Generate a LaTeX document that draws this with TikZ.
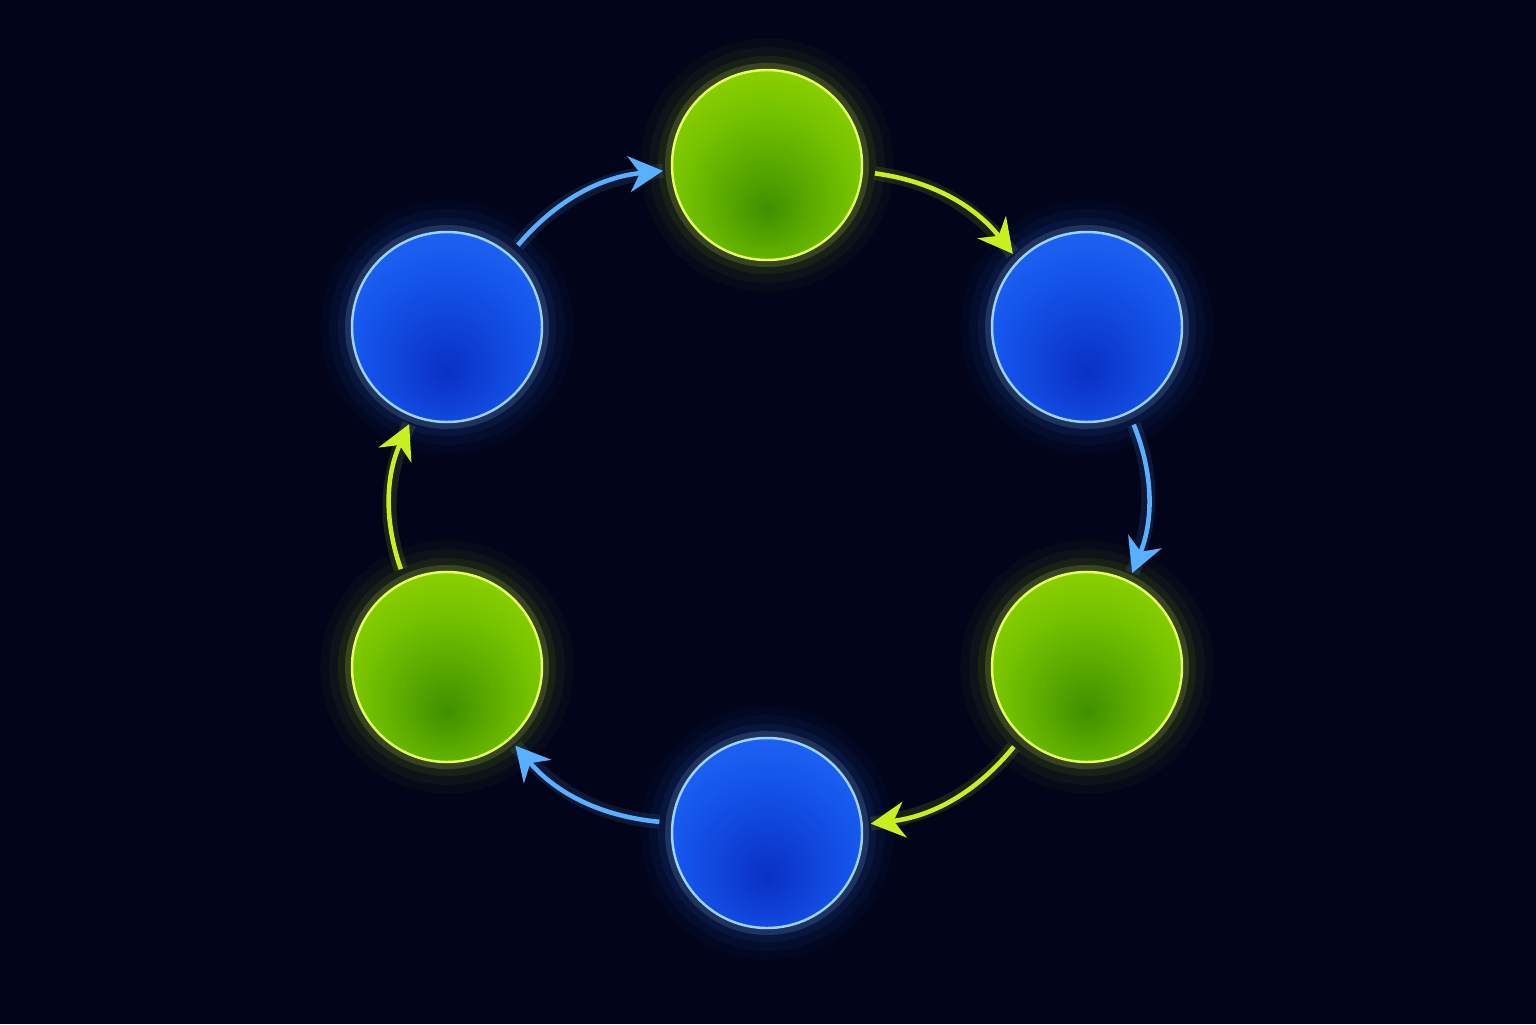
\documentclass[tikz,border=0pt]{standalone}
\usetikzlibrary{arrows.meta}

\definecolor{bgnavy}{HTML}{02041A}
\definecolor{gdark}{HTML}{3F9000}
\definecolor{gmid}{HTML}{74C200}
\definecolor{glight}{HTML}{ACE400}
\definecolor{grim}{HTML}{E4FF60}
\definecolor{garrow}{HTML}{C8F020}
\definecolor{bdark}{HTML}{0A30C4}
\definecolor{bmid}{HTML}{1454EA}
\definecolor{blight}{HTML}{2C78FF}
\definecolor{brim}{HTML}{9AD4FF}
\definecolor{barrow}{HTML}{5AB0FF}

\pgfdeclareradialshading{greenball}{\pgfpoint{0bp}{-12bp}}{color(0bp)=(gdark); color(22bp)=(gmid); color(46bp)=(glight); color(70bp)=(glight)}
\pgfdeclareradialshading{blueball}{\pgfpoint{0bp}{-12bp}}{color(0bp)=(bdark); color(22bp)=(bmid); color(48bp)=(blight); color(70bp)=(blight)}

\tikzset{
  ball/.style={circle, minimum size=1.9cm, inner sep=0pt, line width=0.7pt},
  greennode/.style={ball, shading=greenball, draw=grim,
    preaction={draw=glight, line width=18pt, opacity=0.03},
    preaction={draw=glight, line width=13pt, opacity=0.04},
    preaction={draw=glight, line width=8pt, opacity=0.07},
    preaction={draw=grim, line width=4pt, opacity=0.16}},
  bluenode/.style={ball, shading=blueball, draw=brim,
    preaction={draw=blight, line width=18pt, opacity=0.04},
    preaction={draw=blight, line width=13pt, opacity=0.05},
    preaction={draw=blight, line width=8pt, opacity=0.08},
    preaction={draw=brim, line width=4pt, opacity=0.16}},
  flow/.style={line width=1.3pt, bend left=22, shorten <=0.12cm, shorten >=0.08cm,
    -{Stealth[length=0.34cm, width=0.36cm, inset=0.11cm]}},
  greenflow/.style={flow, draw=garrow,
    preaction={draw=garrow, line width=4pt, opacity=0.12, -}},
  blueflow/.style={flow, draw=barrow,
    preaction={draw=barrow, line width=4pt, opacity=0.12, -}}
}

\begin{document}
\begin{tikzpicture}
% background
\fill[bgnavy] (0,0) rectangle (15.36,10.24);
\useasboundingbox (0,0) rectangle (15.36,10.24);
% nodes
\node[greennode] (top) at (7.67,8.59) {};
\node[bluenode] (rt) at (10.87,6.97) {};
\node[greennode] (rb) at (10.87,3.57) {};
\node[bluenode] (bot) at (7.67,1.91) {};
\node[greennode] (lb) at (4.47,3.57) {};
\node[bluenode] (lt) at (4.47,6.97) {};
% arrows
\draw[blueflow] (lt.49) to (top.183);
\draw[greenflow] (top.-4) to (rt.136);
\draw[blueflow] (rt.-64) to (rb.64);
\draw[greenflow] (rb.227) to (bot.5);
\draw[blueflow] (bot.174) to (lb.-49);
\draw[greenflow] (lb.116) to (lt.249);
\end{tikzpicture}
\end{document}
